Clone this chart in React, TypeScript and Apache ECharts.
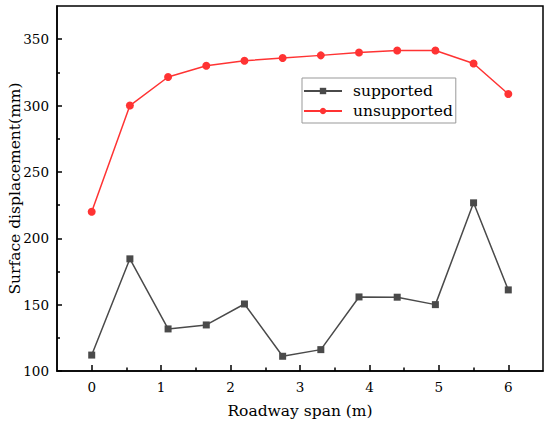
import React, { useEffect, useRef } from "react";
import * as echarts from "echarts";

const spans = [0, 0.55, 1.1, 1.65, 2.2, 2.75, 3.3, 3.85, 4.4, 4.95, 5.5, 6.0];
const supported = [112, 184.5, 131.7, 134.7, 150.5, 111.1, 116.1, 155.8, 155.6, 150.0, 226.7, 161.1];
const unsupported = [220, 300, 321.5, 330, 333.8, 335.8, 337.8, 340, 341.5, 341.5, 331.7, 308.7];
const xMajorTicks = [0, 1, 2, 3, 4, 5, 6];
const xMinorTicks = [0.5, 1.5, 2.5, 3.5, 4.5, 5.5];
const yMajorTicks = [100, 150, 200, 250, 300, 350];
const yMinorTicks = [125, 175, 225, 275, 325];

const FONT = "'DejaVu Serif', 'Liberation Serif', serif";

export default function App() {
  const ref = useRef<HTMLDivElement>(null);
  useEffect(() => {
    if (!ref.current) return;
    const chart = echarts.init(ref.current, undefined, { renderer: "svg" });
    const axisLine = { onZero: false, lineStyle: { color: "#000", width: 1.5 } };
    chart.setOption({
      animation: false,
      backgroundColor: "#fff",
      grid: {
        left: 57,
        right: 7,
        top: 6,
        bottom: 54,
        containLabel: false,
        outerBoundsMode: "none",
        show: true,
        borderColor: "#000",
        borderWidth: 1.5,
        backgroundColor: "transparent",
      },
      legend: {
        left: 302,
        top: 78,
        orient: "vertical",
        borderColor: "#999",
        borderWidth: 1,
        padding: [5, 3, 4, 1],
        itemGap: 4,
        itemWidth: 38,
        itemHeight: 8,
        textStyle: { fontFamily: FONT, fontSize: 15.5, color: "#000", lineHeight: 16, padding: [0, 0, 0, 6] },
        data: ["supported", "unsupported"],
      },
      xAxis: [
        {
          type: "value",
          min: -0.5,
          max: 6.5,
          name: "Roadway span (m)",
          nameLocation: "middle",
          nameGap: 32,
          nameTextStyle: { fontFamily: FONT, fontSize: 15.5, color: "#000" },
          axisLine,
          axisTick: { inside: true, length: 6, customValues: xMajorTicks, lineStyle: { color: "#000", width: 1.5 } },
          axisLabel: { customValues: xMajorTicks, fontFamily: FONT, fontSize: 13.5, color: "#000", margin: 9 },
          splitLine: { show: false },
        },
        {
          type: "value",
          min: -0.5,
          max: 6.5,
          position: "bottom",
          axisLine: { show: false, onZero: false },
          axisTick: { inside: true, length: 3.5, customValues: xMinorTicks, lineStyle: { color: "#000", width: 1.5 } },
          axisLabel: { show: false },
          splitLine: { show: false },
        },
      ],
      yAxis: [
        {
          type: "value",
          min: 100,
          max: 375,
          name: "Surface displacement(mm)",
          nameLocation: "middle",
          nameGap: 34,
          nameMoveOverlap: false,
          nameTextStyle: { fontFamily: FONT, fontSize: 15.5, color: "#000" },
          axisLine,
          axisTick: { inside: true, length: 5, customValues: yMajorTicks, lineStyle: { color: "#000", width: 1.5 } },
          axisLabel: { customValues: yMajorTicks, fontFamily: FONT, fontSize: 13.5, color: "#000", margin: 8 },
          splitLine: { show: false },
        },
        {
          type: "value",
          min: 100,
          max: 375,
          position: "left",
          axisLine: { show: false, onZero: false },
          axisTick: { inside: true, length: 3, customValues: yMinorTicks, lineStyle: { color: "#000", width: 1.5 } },
          axisLabel: { show: false },
          splitLine: { show: false },
        },
      ],
      series: [
        {
          name: "supported",
          type: "line",
          data: spans.map((x, i) => [x, supported[i]]),
          symbol: "rect",
          symbolSize: 7,
          lineStyle: { color: "#4a4a4a", width: 1.5 },
          itemStyle: { color: "#4a4a4a" },
        },
        {
          name: "unsupported",
          type: "line",
          data: spans.map((x, i) => [x, unsupported[i]]),
          symbol: "circle",
          symbolSize: 8,
          lineStyle: { color: "#ff3333", width: 1.5 },
          itemStyle: { color: "#ff3333" },
        },
      ],
    });
    return () => chart.dispose();
  }, []);
  return <div ref={ref} style={{ width: 550, height: 425, position: "absolute", left: 0, top: 0 }} />;
}
